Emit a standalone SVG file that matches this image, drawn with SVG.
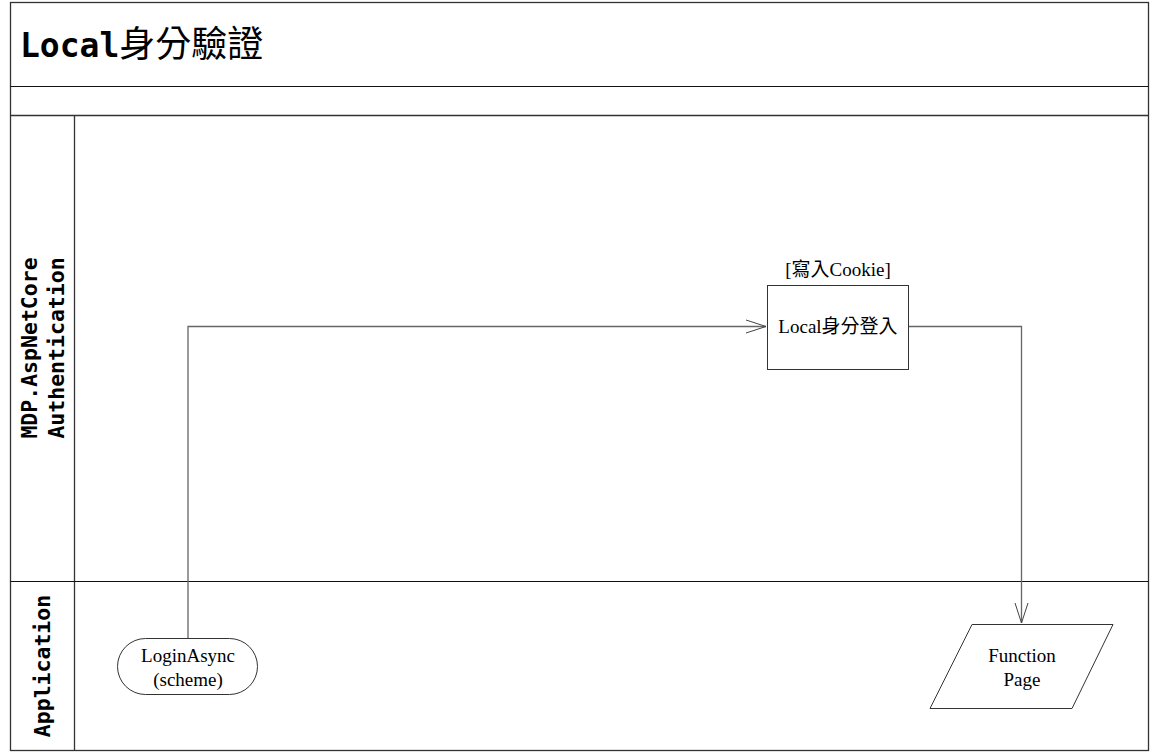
<svg xmlns="http://www.w3.org/2000/svg" width="1151" height="753" viewBox="0 0 1151 753">
<style>
.frame{fill:none;stroke:#333;stroke-width:1.3}
.sep{fill:none;stroke:#111;stroke-width:1.2}
.node{fill:#fff;stroke:#333;stroke-width:1}
.conn{fill:none;stroke:#666;stroke-width:1.3}
.arrow{fill:none;stroke:#444;stroke-width:1}
.lbl{font-family:"Liberation Serif","Noto Sans CJK TC",serif;font-size:19px;fill:#000;text-anchor:middle}
.lane{font-family:"DejaVu Sans Mono","Liberation Mono",monospace;font-weight:bold;font-size:21.5px;fill:#000;text-anchor:middle}
</style>
<rect x="0" y="0" width="1151" height="753" fill="#fff"/>
<g id="frame">
<rect class="frame" x="10.5" y="2.5" width="1138" height="748"/>
<line class="sep" x1="10.5" y1="86.5" x2="1148.5" y2="86.5"/>
<line class="frame" x1="10.5" y1="115.5" x2="1148.5" y2="115.5"/>
<line class="frame" x1="74.5" y1="115.5" x2="74.5" y2="750.5"/>
<line class="sep" x1="10.5" y1="581.5" x2="1148.5" y2="581.5"/>
<text x="20" y="57" font-family="DejaVu Sans Mono, monospace" font-weight="bold" font-size="33" fill="#000">Local<tspan font-family="Noto Sans CJK TC, serif" font-weight="normal" font-size="36">身分驗證</tspan></text>
</g>
<g id="lane-mdp">
<text class="lane" transform="translate(37,348) rotate(-90)">MDP.AspNetCore</text>
<text class="lane" transform="translate(64,348) rotate(-90)">Authentication</text>
</g>
<g id="lane-app">
<text class="lane" transform="translate(50,666) rotate(-90)">Application</text>
</g>
<g id="connectors">
<polyline class="conn" points="188,638 188,326.5 766,326.5"/>
<polyline class="arrow" points="746,320 766,326.5 746,333"/>
<polyline class="conn" points="909,326.5 1021.5,326.5 1021.5,623"/>
<polyline class="arrow" points="1015,603 1021.5,623 1028,603"/>
</g>
<g id="node-login">
<rect class="node" x="117.5" y="638.5" width="140" height="56" rx="28" ry="28"/>
<text class="lbl" x="188" y="662">LoginAsync</text>
<text class="lbl" x="188" y="686">(scheme)</text>
</g>
<g id="node-local">
<text class="lbl" x="838" y="276">[寫入Cookie]</text>
<rect class="node" x="767.5" y="285.5" width="141" height="84"/>
<text class="lbl" x="838" y="333">Local身分登入</text>
</g>
<g id="node-function">
<polygon class="node" points="972,624.5 1113,624.5 1072,708.5 930,708.5"/>
<text class="lbl" x="1022" y="662">Function</text>
<text class="lbl" x="1022" y="686">Page</text>
</g>
</svg>
